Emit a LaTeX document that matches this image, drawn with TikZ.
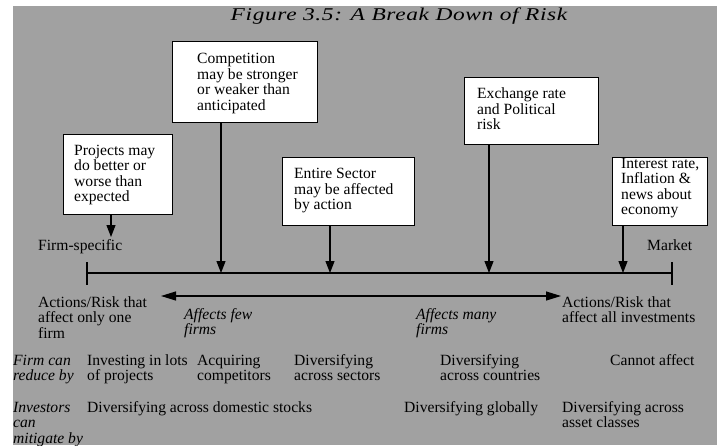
\documentclass[tikz,border=0pt]{standalone}
\usepackage{fontspec}
\setmainfont{Liberation Serif}
\newfontfamily\titlefont[FakeStretch=1.3,LetterSpace=3.5]{Liberation Serif Italic}
\usetikzlibrary{arrows.meta}
\definecolor{panel}{RGB}{161,161,161}
\begin{document}
\begin{tikzpicture}[x=1pt,y=-1pt,
  every node/.style={font=\fontsize{15.6}{15.5}\selectfont, inner sep=0pt},
  riskbox/.style={draw=black, line width=1pt, fill=white},
  txt/.style={anchor=west, align=left},
  % multi-line labels: the base anchor sits on the last line
  lbl/.style={anchor=base west, align=left},
  cue/.style={lbl, font=\fontsize{15.6}{15.5}\selectfont\itshape},
  drop/.style={line width=1.2pt, -{Triangle[length=12pt,width=9pt]}},
  spread/.style={line width=1.2pt, {Triangle[length=15pt,width=9pt]}-{Triangle[length=15pt,width=9pt]}},
  axis/.style={line width=1.2pt}]
\useasboundingbox (0,0) rectangle (717,445);
\fill[white] (0,0) rectangle (717,445);
\fill[panel] (13,6) rectangle (717,445);

% title
\node[anchor=base, font=\fontsize{18}{18}\titlefont] (title) at (399,20) {Figure 3.5: A Break Down of Risk};

% risk sources
\node[riskbox, minimum width=109pt, minimum height=80pt] (b1) at (117.5,174) {};
\node[riskbox, minimum width=145pt, minimum height=81pt] (b2) at (244.5,81.5) {};
\node[riskbox, minimum width=132pt, minimum height=68pt] (b3) at (348,191) {};
\node[riskbox, minimum width=134pt, minimum height=67pt] (b4) at (531,110.5) {};
\node[riskbox, minimum width=95pt, minimum height=68pt] (b5) at (659.5,191) {};

\node[txt] (t1) at (74,175) {Projects may\\do better or\\worse than\\expected};
\node[txt] (t2) at (197,83.5) {Competition\\may be stronger\\or weaker than\\anticipated};
\node[txt] (t3) at (294,191) {Entire Sector\\may be affected\\by action};
\node[txt] (t4) at (477,109) {Exchange rate\\and Political\\risk};
\node[txt] (t5) at (621,188) {Interest rate,\\Inflation \&\\news about\\economy};

% spectrum from firm-specific to market
\coordinate (L) at (87,273);
\coordinate (R) at (672,273);
\draw[axis] (L) -- (R);
\draw[axis] ([yshift=11pt]L) -- ([yshift=-12pt]L);
\draw[axis] ([yshift=11pt]R) -- ([yshift=-12pt]R);

\coordinate (h1) at (111,237);
\coordinate (h2) at (221,273);
\coordinate (h3) at (330,273);
\coordinate (h4) at (489,273);
\coordinate (h5) at (623,273);
\draw[drop] (b1.south -| h1) -- (h1);
\draw[drop] (b2.south -| h2) -- (h2);
\draw[drop] (b3.south -| h3) -- (h3);
\draw[drop] (b4.south -| h4) -- (h4);
\draw[drop] (b5.south -| h5) -- (h5);

\coordinate (fewend) at (161,296);
\coordinate (manyend) at (561,296);
\draw[spread] (fewend) -- (manyend);

% labels along the spectrum
\node[lbl] (firm) at (38,250) {Firm-specific};
\node[lbl] (market) at (647,250) {Market};
\node[lbl] (one) at (38,338) {Actions/Risk that\\affect only one\\firm};
\node[cue] (few) at (184,334.5) {Affects few\\firms};
\node[cue] (many) at (416,334.5) {Affects many\\firms};
\node[lbl] (all) at (562,322.5) {Actions/Risk that\\affect all investments};

% what firms can do
\node[cue] (firmcan) at (13,380.5) {Firm can\\reduce by};
\node[lbl] (r1) at (87,380.5) {Investing in lots\\of projects};
\node[lbl] (r2) at (197,380.5) {Acquiring\\competitors};
\node[lbl] (r3) at (294,380.5) {Diversifying\\across sectors};
\node[lbl] (r4) at (440,380.5) {Diversifying\\across countries};
\node[lbl] (r5) at (610,365) {Cannot affect};

% what investors can do
\node[cue] (invcan) at (13,443) {Investors\\can\\mitigate by};
\node[lbl] (m1) at (87,412) {Diversifying across domestic stocks};
\node[lbl] (m2) at (404,412) {Diversifying globally};
\node[lbl] (m3) at (562,427.5) {Diversifying across\\asset classes};
\end{tikzpicture}
\end{document}
